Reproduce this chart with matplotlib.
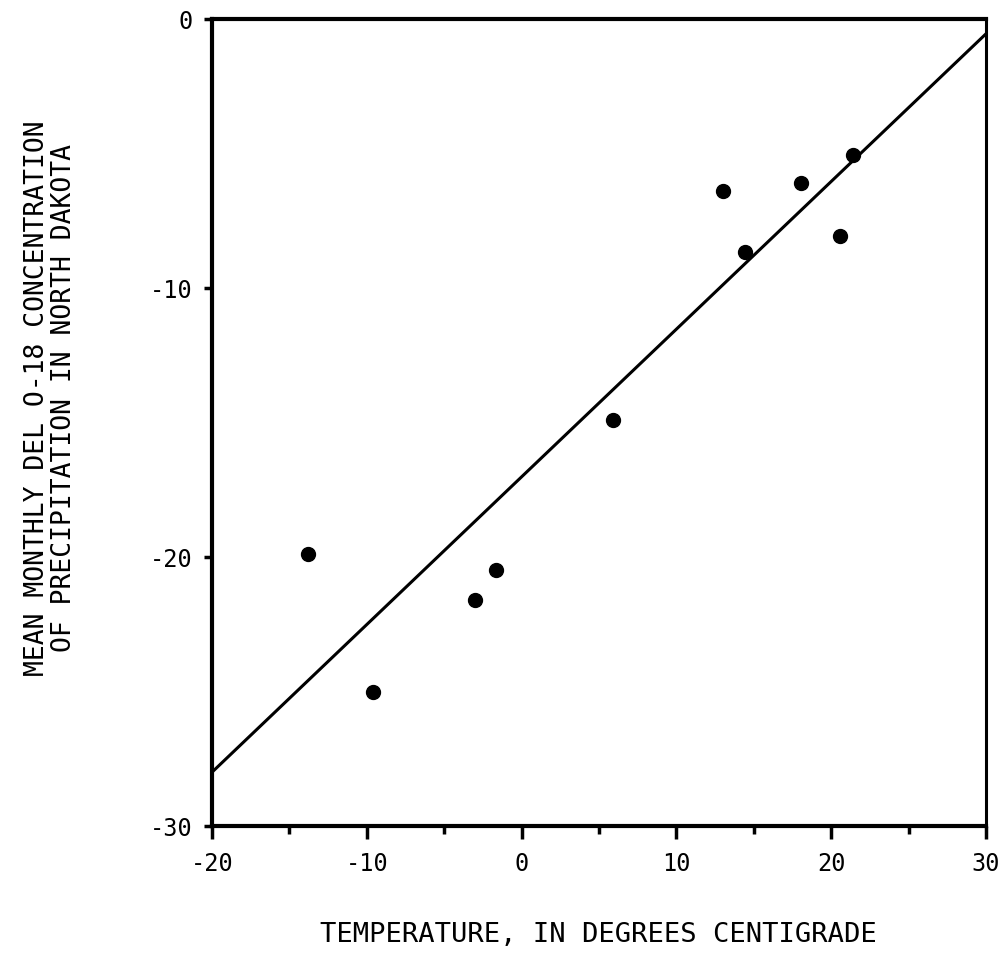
import matplotlib
matplotlib.use("Agg")
import matplotlib.pyplot as plt
import numpy as np

temperature = [-13.8, -9.6, -3.0, -1.65, 5.9, 13.0, 14.4, 18.05, 20.6, 21.4]
del_o18 = [-19.9, -25.0, -21.6, -20.5, -14.9, -6.4, -8.65, -6.1, -8.05, -5.05]
fit_x = [-20, 30]
fit_y = [-28.0, -0.55]

x_ticks = [-20, -10, 0, 10, 20, 30]
y_ticks = [-30, -20, -10, 0]
x_label = "TEMPERATURE, IN DEGREES CENTIGRADE"
y_label = "MEAN MONTHLY DEL O-18 CONCENTRATION\nOF PRECIPITATION IN NORTH DAKOTA"

mono = "DejaVu Sans Mono"

fig = plt.figure(figsize=(10.03, 9.70), dpi=100)
ax = fig.add_axes([212/1003, 1-827/970, (986-212)/1003, (827-20)/970])

ax.plot(fit_x, fit_y, color="black", lw=2.2)
ax.scatter(temperature, del_o18, s=100, color="black", zorder=3)

ax.set_xlim(-20, 30)
ax.set_ylim(-30, 0)
ax.set_xticks(x_ticks)
ax.set_yticks(y_ticks)
ax.set_xticks([-15, -5, 5, 15, 25], minor=True)
ax.set_xticklabels([str(v) for v in x_ticks], family=mono, fontsize=17)
ax.set_yticklabels([str(v) for v in y_ticks], family=mono, fontsize=17)
ax.tick_params(axis="x", which="major", direction="out", length=9, width=2.5, pad=9)
ax.tick_params(axis="x", which="minor", direction="out", length=6, width=2.5)
ax.tick_params(axis="y", which="major", direction="out", length=6, width=2.5, pad=8)
for s in ax.spines.values():
    s.set_linewidth(3)
    s.set_color("black")
ax.spines["right"].set_linewidth(2.2)

fig.text(598/1003, 1-935/970, x_label, ha="center", va="center", fontsize=19.5, family=mono)
fig.text(51/1003, 1-398/970, y_label, ha="center", va="center", rotation=90,
         fontsize=19, family=mono, linespacing=1.05)

fig.savefig("out.png", dpi=100)
